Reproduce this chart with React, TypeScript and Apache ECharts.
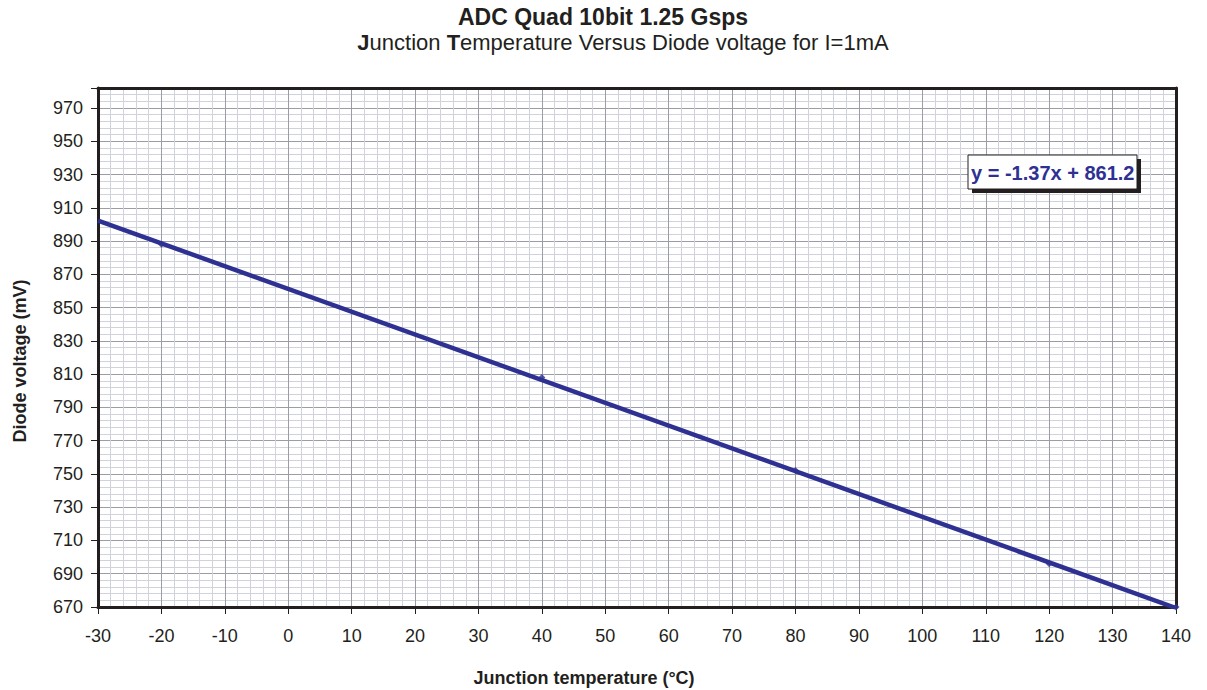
import React, { useEffect, useRef } from "react";
import * as echarts from "echarts";

// Measured data points (junction temperature °C, diode voltage mV)
const tempC = [-20, 40, 80, 120, 140];
const diodeMv = [888, 808, 752, 696, 670];
// Linear trend line end points
const trendTemp = [-30, 140];
const trendMv = [902.3, 669.4];

const titleText = "ADC Quad 10bit 1.25 Gsps";
const xName = "Junction temperature (°C)";
const yName = "Diode voltage (mV)";
const equation = "y = -1.37x + 861.2";

const X_MIN = -30, X_MAX = 140, X_STEP = 10;
const Y_MIN = 670, Y_MAX = 982, Y_STEP = 20, Y_MINOR = 4;

const FONT = "'Liberation Sans', Arial, Helvetica, sans-serif";
const INK = "#231f20";
const BLUE = "#2e3192";

export default function App() {
  const ref = useRef<HTMLDivElement>(null);
  useEffect(() => {
    if (!ref.current) return;
    const chart = echarts.init(ref.current, undefined, { renderer: "svg" });
    const points = tempC.map((t, i) => [t, diodeMv[i]]);
    const trend = trendTemp.map((t, i) => [t, trendMv[i]]);
    const borderAxis = {
      type: "value",
      z: 4,
      axisLine: { show: true, onZero: false, lineStyle: { color: INK, width: 3 } },
      axisTick: { show: false },
      axisLabel: { show: false },
      splitLine: { show: false },
    };
    chart.setOption({
      animation: false,
      backgroundColor: "#ffffff",
      grid: {
        left: 98,
        right: 31,
        top: 88,
        bottom: 83,
        show: false,
      },
      xAxis: [
        {
          type: "value",
          min: X_MIN,
          max: X_MAX,
          interval: X_STEP,
          z: 3,
          axisLine: { show: true, onZero: false, lineStyle: { color: INK, width: 3 } },
          axisTick: { show: true, length: 7, lineStyle: { color: INK, width: 1 } },
          axisLabel: { color: INK, fontFamily: FONT, fontSize: 18, margin: 20 },
          splitLine: { show: true, lineStyle: { color: "#9a9da6", width: 1 } },
          minorTick: { show: false, splitNumber: 5 },
          minorSplitLine: { show: true, lineStyle: { color: "#d0d3db", width: 1 } },
        },
        { ...borderAxis, position: "top", min: X_MIN, max: X_MAX },
      ],
      yAxis: [
        {
          type: "value",
          min: Y_MIN,
          max: Y_MAX,
          interval: Y_STEP,
          z: 3,
          axisLine: { show: true, onZero: false, lineStyle: { color: INK, width: 3 } },
          axisTick: { show: true, length: 7, lineStyle: { color: INK, width: 1 } },
          axisLabel: {
            color: INK,
            fontFamily: FONT,
            fontSize: 18,
            margin: 15,
            formatter: (v: number) => ((v - Y_MIN) % Y_STEP === 0 ? String(v) : ""),
          },
          splitLine: { show: true, lineStyle: { color: "#9a9da6", width: 1 } },
        },
        {
          type: "value",
          min: Y_MIN,
          max: Y_MAX,
          interval: Y_MINOR,
          z: 1,
          axisLine: { show: false, onZero: false },
          axisTick: { show: false },
          axisLabel: { show: false },
          splitLine: { show: true, lineStyle: { color: "#d0d3db", width: 1 } },
        },
        { ...borderAxis, position: "right", min: Y_MIN, max: Y_MAX },
      ],
      series: [
        {
          type: "line",
          data: trend,
          yAxisIndex: 0,
          z: 5,
          showSymbol: false,
          symbol: "none",
          lineStyle: { color: BLUE, width: 4.5 },
        },
        {
          type: "scatter",
          data: points,
          yAxisIndex: 0,
          z: 6,
          symbol: "diamond",
          symbolSize: 7,
          itemStyle: { color: BLUE },
        },
      ],
      graphic: [
        {
          type: "text",
          x: 603,
          y: 17,
          style: {
            text: titleText,
            fill: INK,
            font: `bold 23px ${FONT}`,
            textAlign: "center",
            textVerticalAlign: "middle",
          },
        },
        {
          type: "text",
          x: 623,
          y: 42,
          style: {
            text: "{b|J}unction {b|T}emperature Versus Diode voltage for I=1mA",
            fill: INK,
            font: `22px ${FONT}`,
            textAlign: "center",
            textVerticalAlign: "middle",
            rich: {
              b: { fontWeight: "bold", fontSize: 22, fontFamily: FONT, fill: INK },
            },
          },
        },
        {
          type: "text",
          x: 584,
          y: 678,
          style: {
            text: xName,
            fill: INK,
            font: `bold 18px ${FONT}`,
            textAlign: "center",
            textVerticalAlign: "middle",
          },
        },
        {
          type: "text",
          x: 20,
          y: 361,
          rotation: Math.PI / 2,
          style: {
            text: yName,
            fill: INK,
            font: `bold 18px ${FONT}`,
            textAlign: "center",
            textVerticalAlign: "middle",
          },
        },
        {
          type: "rect",
          z: 10,
          shape: { x: 972, y: 159, width: 169, height: 34 },
          style: { fill: INK },
        },
        {
          type: "rect",
          z: 11,
          shape: { x: 968, y: 155, width: 169, height: 34 },
          style: { fill: "#ffffff", stroke: INK, lineWidth: 1 },
        },
        {
          type: "text",
          z: 12,
          x: 971,
          y: 173,
          style: {
            text: equation,
            fill: BLUE,
            font: `bold 20px ${FONT}`,
            textAlign: "left",
            textVerticalAlign: "middle",
          },
        },
      ],
    });
    return () => chart.dispose();
  }, []);
  return (
    <div
      ref={ref}
      style={{ position: "absolute", left: 0, top: 0, width: 1207, height: 690 }}
    />
  );
}
